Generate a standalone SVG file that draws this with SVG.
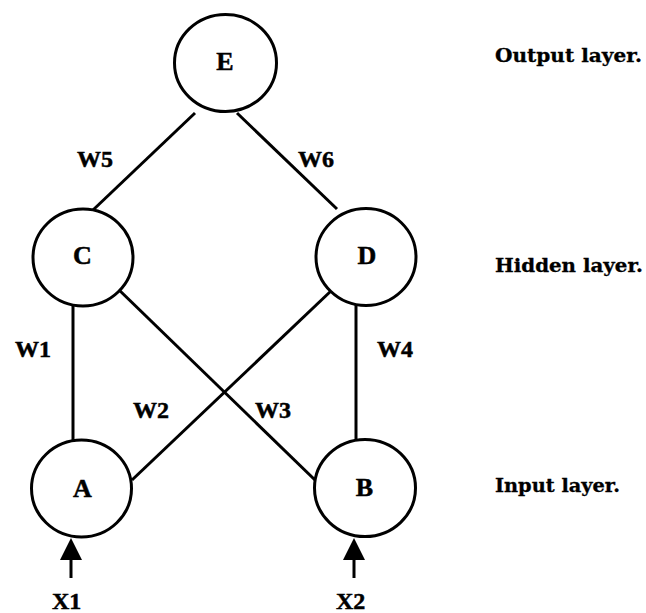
<svg xmlns="http://www.w3.org/2000/svg" width="646" height="613" viewBox="0 0 646 613">
  <style>
    .node { fill: #fff; stroke: #000; stroke-width: 3; }
    .edge { stroke: #000; stroke-width: 3; fill: none; stroke-linecap: butt; }
    .lbl { font-family: "Liberation Serif", "Times New Roman", serif; font-weight: bold; fill: #000; stroke: #000; stroke-width: 0.5; }
    .nlbl { font-size: 26px; text-anchor: middle; }
    .wlbl { font-size: 24px; }
    .layer { font-family: "DejaVu Serif", "Liberation Serif", serif; font-weight: bold; font-size: 18px; fill: #000; stroke: #000; stroke-width: 0.3; }
  </style>
  <defs>
    <polygon id="head" points="0,0 -11,22 11,22" fill="#000"/>
  </defs>

  <!-- connectors -->
  <g id="connectors">
    <line class="edge" x1="195" y1="113" x2="93" y2="210"/>
    <line class="edge" x1="237" y1="113" x2="337" y2="209"/>
    <line class="edge" x1="73" y1="306" x2="73" y2="440"/>
    <line class="edge" x1="356" y1="305" x2="356" y2="440"/>
    <line class="edge" x1="116" y1="287" x2="315" y2="480"/>
    <line class="edge" x1="132" y1="480" x2="332" y2="290"/>
    <!-- inputs -->
    <line class="edge" x1="71" y1="556" x2="71" y2="578"/>
    <use href="#head" x="71" y="538"/>
    <line class="edge" x1="354" y1="556" x2="354" y2="578"/>
    <use href="#head" x="354" y="538"/>
  </g>

  <!-- weight labels -->
  <g id="weights" class="lbl wlbl">
    <text x="77" y="167">W5</text>
    <text x="298" y="167">W6</text>
    <text x="15" y="357">W1</text>
    <text x="377" y="357">W4</text>
    <text x="133" y="418">W2</text>
    <text x="255" y="418">W3</text>
  </g>

  <g id="node-E">
    <ellipse class="node" cx="225.5" cy="63" rx="51" ry="48.5"/>
    <text class="lbl nlbl" x="225" y="70">E</text>
  </g>
  <g id="node-C">
    <ellipse class="node" cx="83" cy="257.5" rx="50" ry="48.5"/>
    <text class="lbl nlbl" x="82.5" y="264">C</text>
  </g>
  <g id="node-D">
    <ellipse class="node" cx="366" cy="257" rx="50" ry="48.5"/>
    <text class="lbl nlbl" x="367" y="264">D</text>
  </g>
  <g id="node-A">
    <ellipse class="node" cx="81.5" cy="488.5" rx="50" ry="48.5"/>
    <text class="lbl nlbl" x="82.5" y="497">A</text>
  </g>
  <g id="node-B">
    <ellipse class="node" cx="365" cy="488" rx="50.5" ry="48.5"/>
    <text class="lbl nlbl" x="364.5" y="496">B</text>
  </g>

  <g id="inputs" class="lbl wlbl">
    <text x="52" y="609">X1</text>
    <text x="336" y="609">X2</text>
  </g>

  <g id="layers" class="layer">
    <text x="495" y="62" textLength="147" lengthAdjust="spacingAndGlyphs">Output layer.</text>
    <text x="495" y="272" textLength="148" lengthAdjust="spacingAndGlyphs">Hidden layer.</text>
    <text x="495" y="492" textLength="125" lengthAdjust="spacingAndGlyphs">Input layer.</text>
  </g>
</svg>
